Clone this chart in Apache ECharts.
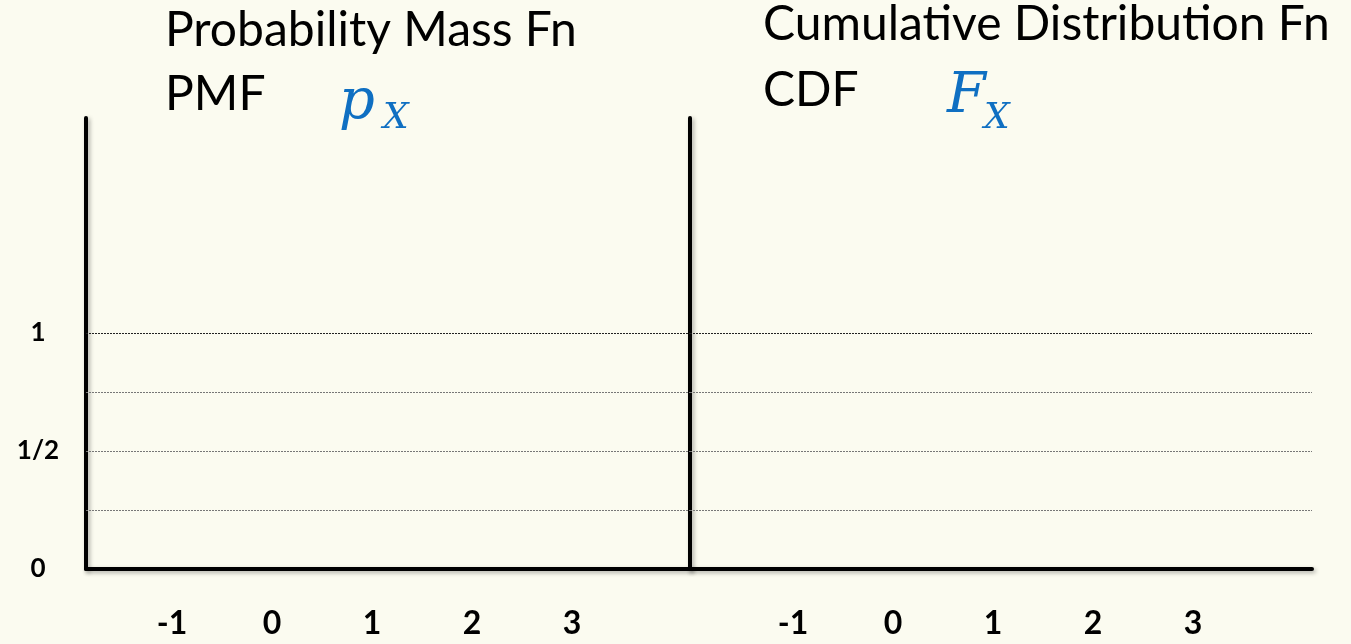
<!DOCTYPE html>
<html>
<head>
<meta charset="utf-8">
<title>PMF / CDF</title>
<script src="https://cdn.jsdelivr.net/npm/echarts@6/dist/echarts.min.js"></script>
<style>
  html, body { margin: 0; padding: 0; background: #fbfbf0; }
  #chart { width: 1351px; height: 644px; }
</style>
</head>
<body>
<div id="chart"></div>
<script>
// tick values and labels
const xTicks = [-1, 0, 1, 2, 3];
const yTicks = [0, 0.5, 1];
const yTickLabels = ['0', '1/2', '1'];
// dotted reference levels
const gridLevels = [0.25, 0.5, 0.75, 1];
// axis extents (value units)
const pmfRange = [-1.86, 4.18];
const cdfRange = [-2.03, 4.19];
const yMax = 1.91;

const chart = echarts.init(document.getElementById('chart'));

const axisLineStyle = {
  color: '#000',
  width: 4,
  shadowColor: 'rgba(0,0,0,0.3)',
  shadowBlur: 4,
  shadowOffsetX: 2,
  shadowOffsetY: 2
};

const xAxisFor = (range, idx) => ({
  type: 'value',
  gridIndex: idx,
  min: range[0],
  max: range[1],
  axisLine: { show: true, onZero: false, lineStyle: axisLineStyle },
  axisTick: { show: false },
  splitLine: { show: false },
  axisLabel: {
    customValues: xTicks,
    margin: 55,
    verticalAlign: 'middle',
    fontFamily: 'Lato',
    fontWeight: 'bold',
    fontSize: 32,
    color: '#000'
  }
});

const yAxisFor = (idx, showLabels) => ({
  type: 'value',
  gridIndex: idx,
  min: 0,
  max: yMax,
  axisLine: { show: true, onZero: false, lineStyle: axisLineStyle },
  axisTick: { show: false },
  splitLine: { show: false },
  axisLabel: {
    show: showLabels,
    customValues: yTicks,
    formatter: (v) => yTickLabels[yTicks.indexOf(v)],
    margin: 48,
    align: 'center',
    verticalAlign: 'middle',
    padding: [8, 0, 0, 0],
    fontFamily: 'Lato',
    fontWeight: 'bold',
    fontSize: 26,
    color: '#000'
  }
});

const levelLines = (idx) => ({
  type: 'line',
  xAxisIndex: idx,
  yAxisIndex: idx,
  data: [],
  silent: true,
  markLine: {
    symbol: 'none',
    silent: true,
    label: { show: false },
    data: gridLevels.map((v) => ({
      yAxis: v,
      lineStyle: { color: v === 1 ? '#222' : '#777' }
    })),
    lineStyle: { type: [2, 1], width: 1 }
  }
});

const titleFont = { fontFamily: 'Lato', fontSize: 48, color: '#000', fontWeight: 'normal' };
const mathFont = { fontFamily: 'DejaVu Serif', fontStyle: 'italic', color: '#0f6fc2', fontWeight: 'normal' };

chart.setOption({
  backgroundColor: '#fbfbf0',
  animation: false,
  title: [
    { text: 'Probability Mass Fn', left: 160, top: 2, textStyle: titleFont },
    { text: 'PMF', left: 160, top: 66, textStyle: titleFont },
    { text: 'p', left: 334, top: 70, textStyle: Object.assign({ fontSize: 56 }, mathFont) },
    { text: 'X', left: 378, top: 96, textStyle: Object.assign({ fontSize: 36 }, mathFont) },
    { text: 'Cumulative Distribution Fn', left: 758, top: -4, textStyle: titleFont },
    { text: 'CDF', left: 758, top: 62, textStyle: titleFont },
    { text: 'F', left: 942, top: 64, textStyle: Object.assign({ fontSize: 56 }, mathFont) },
    { text: 'X', left: 979, top: 96, textStyle: Object.assign({ fontSize: 36 }, mathFont) }
  ],
  grid: [
    { left: 86, right: 661, top: 118, bottom: 75 },
    { left: 690, right: 39, top: 118, bottom: 75 }
  ],
  xAxis: [xAxisFor(pmfRange, 0), xAxisFor(cdfRange, 1)],
  yAxis: [yAxisFor(0, true), yAxisFor(1, false)],
  series: [levelLines(0), levelLines(1)]
});

window.addEventListener('resize', () => chart.resize());
</script>
</body>
</html>
